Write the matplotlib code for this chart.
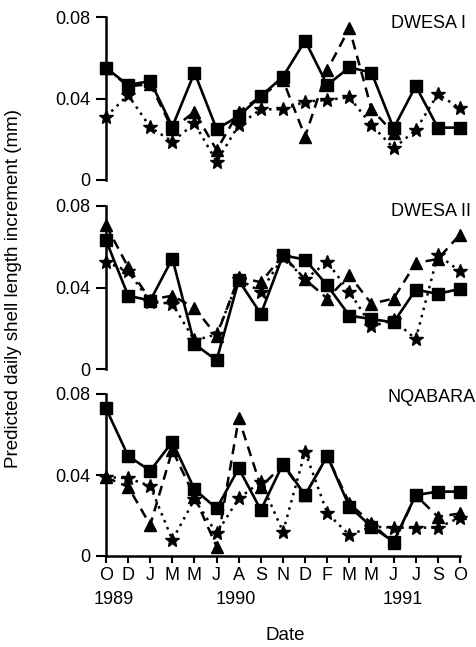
import numpy as np
import matplotlib
matplotlib.use("Agg")
import matplotlib.pyplot as plt

plt.rcParams['font.family'] = ['Liberation Sans', 'DejaVu Sans']

months = ["O", "D", "J", "M", "M", "J", "A", "S", "N", "D", "F", "M", "M", "J", "J", "S", "O"]
years = ["1989", "1990", "1991"]
year_pos = [0.35, 5.85, 13.4]
sites = ["DWESA I", "DWESA II", "NQABARA"]

nan = np.nan
# squares (solid), triangles (dashed), stars (dotted)
dw1_sq = [0.055, 0.0466, 0.0486, 0.0262, 0.0527, 0.025, 0.0314, 0.0412, 0.0507, 0.0684,
          0.0466, 0.0553, 0.0527, 0.0254, 0.0461, 0.0257, 0.0257]
dw1_tr = [0.055, 0.046, 0.047, 0.025, 0.0335, 0.0147, 0.0335, 0.041, 0.049, 0.0213,
          0.054, 0.0745, 0.0348, 0.023, nan, nan, nan]
dw1_st = [0.0311, 0.0417, 0.0259, 0.0188, 0.0278, 0.009, 0.027, 0.0347, 0.0347, 0.0384,
          0.0393, 0.0406, 0.027, 0.0156, 0.0245, 0.0422, 0.0352]

dw2_sq = [0.0632, 0.036, 0.0336, 0.0542, 0.0122, 0.0043, 0.0435, 0.027, 0.0558, 0.0537,
          0.041, 0.0262, 0.0245, 0.0229, 0.0389, 0.0369, 0.0393]
dw2_tr = [0.0706, 0.050, 0.034, 0.036, 0.030, 0.0163, 0.045, 0.0426, 0.0558, 0.044,
          0.0346, 0.046, 0.032, 0.0346, 0.052, 0.054, 0.066]
dw2_st = [0.0525, 0.048, 0.033, 0.032, 0.014, 0.017, 0.044, 0.038, 0.055, 0.044,
          0.0525, 0.038, 0.021, 0.024, 0.0147, 0.056, 0.048]

nq_sq = [0.0729, 0.0494, 0.0421, 0.0564, 0.0329, 0.0235, 0.0433, 0.0227, 0.0455, 0.0301,
         0.0494, 0.0244, 0.0145, 0.0071, 0.0301, 0.0318, 0.0318]
nq_tr = [0.0388, 0.0342, 0.0153, 0.0523, 0.0293, 0.0046, 0.068, 0.0342, 0.0449, 0.030,
         0.0494, 0.026, 0.0161, 0.0063, 0.030, 0.0194, 0.021]
nq_st = [0.039, 0.0384, 0.0346, 0.0079, 0.028, 0.0112, 0.0285, 0.0367, 0.012, 0.0515,
         0.0211, 0.0104, 0.0145, 0.014, 0.014, 0.014, 0.019]

data = [(dw1_sq, dw1_tr, dw1_st), (dw2_sq, dw2_tr, dw2_st), (nq_sq, nq_tr, nq_st)]

fig = plt.figure(figsize=(4.77, 6.47), dpi=100)
W, H = 477.0, 647.0
boxes = [(17, 180), (206, 369), (394, 556)]
label_pos = [(466, 24), (471, 212), (476, 398)]
x = np.arange(len(months))

for i, ((top, bot), (sq, tr, st)) in enumerate(zip(boxes, data)):
    ax = fig.add_axes([106 / W, 1 - bot / H, (460 - 106) / W, (bot - top) / H])
    ax.plot(x, st, color='black', ls=(0, (1, 2)), lw=1.8, marker='*', ms=10,
            clip_on=False, zorder=3)
    ax.plot(x, tr, color='black', ls=(0, (4, 2.6)), lw=1.8, marker='^', ms=8,
            clip_on=False, zorder=4)
    ax.plot(x, sq, color='black', ls='-', lw=1.9, marker='s', ms=8,
            clip_on=False, zorder=5)
    ax.set_xlim(0, 16)
    ax.set_ylim(0, 0.08)
    ax.set_yticks([0, 0.04, 0.08])
    ax.set_yticklabels(["0", "0.04", "0.08"])
    for s in ['top', 'right']:
        ax.spines[s].set_visible(False)
    ax.spines['left'].set_linewidth(1.8)
    ax.tick_params(axis='y', direction='out', length=7, width=1.5, pad=4, labelsize=13)
    if i < 2:
        ax.spines['bottom'].set_visible(False)
        ax.set_xticks([])
    else:
        ax.spines['bottom'].set_linewidth(1.8)
        ax.set_xticks(x)
        ax.set_xticklabels(months)
        ax.tick_params(axis='x', direction='out', length=5, width=1.5, pad=3, labelsize=13)
        for yr, xp in zip(years, year_pos):
            ax.text(xp, -0.27, yr, transform=ax.get_xaxis_transform(),
                    ha='center', va='center', fontsize=13)
    fig.text(label_pos[i][0] / W, 1 - label_pos[i][1] / H, sites[i],
             ha='right', va='center', fontsize=13)

fig.text(285 / W, 1 - 636 / H, "Date", ha='center', va='center', fontsize=13.5)
fig.text(14 / W, 1 - 288 / H, "Predicted daily shell length increment (mm)",
         rotation=90, ha='center', va='center', fontsize=13.5)

fig.savefig("out.png", dpi=100)
